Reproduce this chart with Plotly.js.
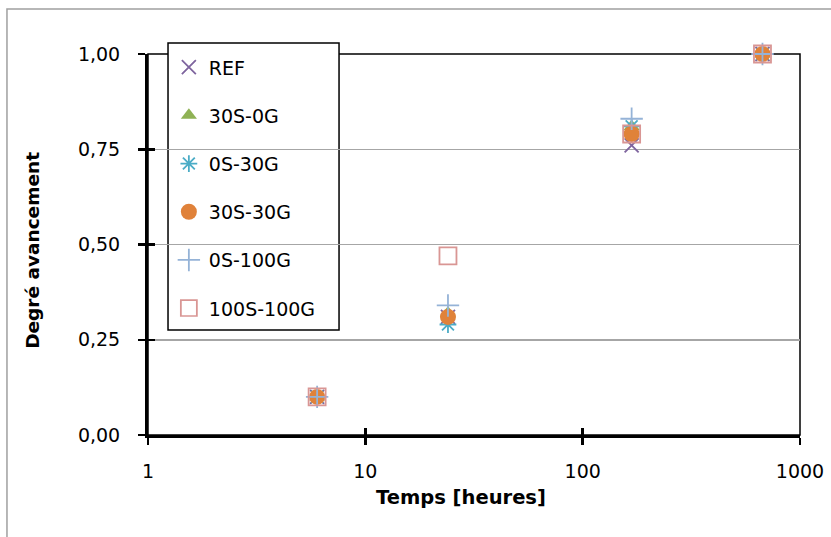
<!DOCTYPE html>
<html>
<head>
<meta charset="utf-8">
<script src="https://cdn.plot.ly/plotly-3.0.1.min.js"></script>
<style>html,body{margin:0;padding:0;background:#fff;}#chart{width:831px;height:537px;}</style>
</head>
<body>
<div id="chart"></div>
<script>
// ---- data ----
const timeHours = [6, 24, 168, 672];
const seriesNames = ['REF', '30S-0G', '0S-30G', '30S-30G', '0S-100G', '100S-100G'];
const valREF      = [0.10, 0.31, 0.76, 1.00];
const val30S0G    = [0.10, 0.32, 0.81, 1.00];
const val0S30G    = [0.10, 0.29, 0.81, 1.00];
const val30S30G   = [0.10, 0.31, 0.79, 1.00];
const val0S100G   = [0.10, 0.34, 0.83, 1.00];
const val100S100G = [0.10, 0.47, 0.79, 1.00];
const xTickVals = [1, 10, 100, 1000];
const xTickText = ['1', '10', '100', '1000'];
const yTickVals = [0, 0.25, 0.5, 0.75, 1];
const yTickText = ['0,00', '0,25', '0,50', '0,75', '1,00'];
const xTitle = 'Temps [heures]';
const yTitle = 'Degré avancement';

const FONT = '"DejaVu Sans", sans-serif';

const styles = [
  {symbol: 'x-thin-open', size: 14, color: '#7E649E', line: {color: '#7E649E', width: 1.8}},
  {symbol: 'triangle-up', size: 14, color: '#8FB255', line: {width: 0}},
  {symbol: 'asterisk-open', size: 14, color: '#4BACC6', line: {color: '#4BACC6', width: 1.8}},
  {symbol: 'circle', size: 16, color: '#E0823A', line: {width: 0}},
  {symbol: 'cross-thin-open', size: 16, color: '#95B3D7', line: {color: '#95B3D7', width: 1.8}},
  {symbol: 'square-open', size: 17, color: '#D99694', line: {color: '#D99694', width: 1.8}}
];
const values = [valREF, val30S0G, val0S30G, val30S30G, val0S100G, val100S100G];

const traces = seriesNames.map((n, i) => ({
  type: 'scatter', mode: 'markers', name: n, x: timeHours, y: values[i],
  legendgroup: 'g' + i, marker: styles[i], cliponaxis: false
}));
traces.push({type: 'scatter', mode: 'markers', x: [], y: [], xaxis: 'x2', yaxis: 'y2', showlegend: false, hoverinfo: 'skip'});

const layout = {
  width: 831, height: 537,
  margin: {l: 148, r: 31, t: 54, b: 102},
  paper_bgcolor: '#fff', plot_bgcolor: '#fff',
  font: {family: FONT, size: 20, color: '#000'},
  showlegend: true,
  legend: {x: 0.032, y: 1.015, xanchor: 'left', yanchor: 'top', bgcolor: 'rgba(0,0,0,0)', borderwidth: 0,
           font: {family: FONT, size: 19, color: '#000'}, tracegroupgap: 20.5, itemwidth: 30},
  xaxis: {type: 'log', range: [0, 3], tickvals: xTickVals, ticktext: xTickText,
          ticks: 'outside', ticklen: 7, tickwidth: 2.5, tickcolor: '#000',
          showline: true, linecolor: '#000', linewidth: 3, showgrid: false, zeroline: false,
          ticklabelstandoff: 10, tickfont: {family: FONT, size: 19, color: '#000'}},
  yaxis: {range: [0, 1], tickvals: yTickVals, ticktext: yTickText,
          ticks: 'outside', ticklen: 7, tickwidth: 2.5, tickcolor: '#000',
          showline: true, linecolor: '#000', linewidth: 3, showgrid: true, gridcolor: '#A6A6A6', gridwidth: 1.5,
          zeroline: false, ticklabelstandoff: 14, tickfont: {family: FONT, size: 19, color: '#000'}},
  xaxis2: {type: 'log', range: [0, 3], overlaying: 'x', anchor: 'y', tickvals: xTickVals,
           ticks: 'inside', ticklen: 7, tickwidth: 2.5, tickcolor: '#000', showticklabels: false,
           showline: false, showgrid: false, zeroline: false},
  yaxis2: {range: [0, 1], overlaying: 'y', anchor: 'x', side: 'left', tickvals: yTickVals,
           ticks: 'inside', ticklen: 7, tickwidth: 2.5, tickcolor: '#000', showticklabels: false,
           showline: false, showgrid: false, zeroline: false},
  annotations: [
    {text: '<b>' + xTitle + '</b>', xref: 'paper', yref: 'paper', x: 0.48, y: -0.163,
     xanchor: 'center', yanchor: 'middle', showarrow: false, font: {family: FONT, size: 19.5, color: '#000'}},
    {text: '<b>' + yTitle + '</b>', xref: 'paper', yref: 'paper', x: -0.1764, y: 0.486, textangle: -90,
     xanchor: 'center', yanchor: 'middle', showarrow: false, font: {family: FONT, size: 18.5, color: '#000'}}
  ],
  shapes: [
    {type: 'rect', xref: 'paper', yref: 'paper', x0: -0.2163, x1: 1.2, y0: -0.4, y1: 1.118,
     line: {color: '#A0A0A0', width: 1.5}, fillcolor: 'rgba(0,0,0,0)', layer: 'below'},
    {type: 'rect', xref: 'paper', yref: 'paper', x0: 0, x1: 1, y0: 0, y1: 1,
     line: {color: '#000', width: 1.5}, fillcolor: 'rgba(0,0,0,0)', layer: 'between'},
    {type: 'rect', xref: 'paper', yref: 'paper', x0: 0.0307, x1: 0.293, y0: 0.2756, y1: 1.029,
     line: {color: '#000', width: 1.5}, fillcolor: '#fff', layer: 'between'}
  ]
};

Plotly.newPlot('chart', traces, layout, {staticPlot: true});
</script>
</body>
</html>
